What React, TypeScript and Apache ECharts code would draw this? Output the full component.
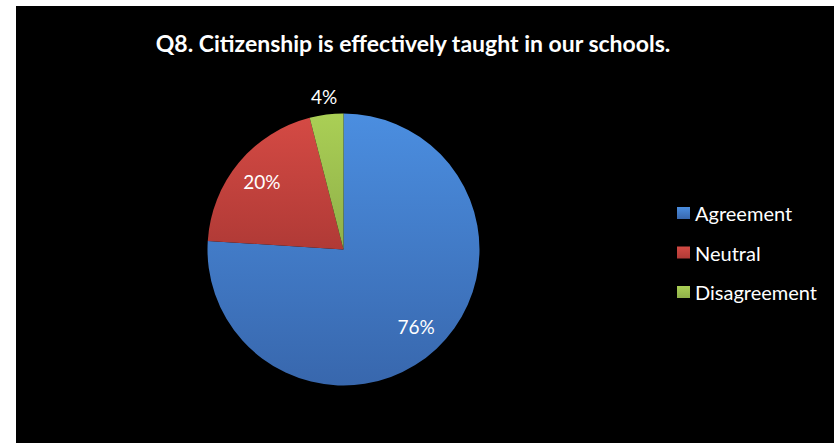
import React, { useEffect, useRef } from "react";
import * as echarts from "echarts";

const TITLE = "Q8. Citizenship is effectively taught in our schools.";
const categories = ["Agreement", "Neutral", "Disagreement"];
const values = [76, 20, 4];
const topColors = ["#4B8EE0", "#D44A44", "#AACF55"];
const bottomColors = ["#3867AD", "#B03A36", "#8FB049"];
const insideLabel = [true, true, false];
const outsideLabel = [false, false, true];

const FONT = "Lato, 'Open Sans', sans-serif";

export default function App() {
  const ref = useRef<HTMLDivElement>(null);
  useEffect(() => {
    if (!ref.current) return;
    const chart = echarts.init(ref.current, undefined, { renderer: "svg" });
    const grad = (i: number) =>
      new echarts.graphic.LinearGradient(0, 0, 0, 1, [
        { offset: 0, color: topColors[i] },
        { offset: 1, color: bottomColors[i] },
      ]);
    const center = [343.5, 249.5];
    chart.setOption({
      animation: false,
      backgroundColor: "#ffffff",
      graphic: [
        {
          type: "rect",
          left: 16,
          top: 6,
          shape: { width: 818, height: 437 },
          style: { fill: "#000000" },
          z: -10,
        },
      ],
      title: {
        text: TITLE,
        left: 413,
        textAlign: "center",
        top: 31,
        padding: 0,
        textStyle: {
          color: "#ffffff",
          fontFamily: FONT,
          fontWeight: "bold",
          fontSize: 23,
        },
      },
      legend: {
        orient: "vertical",
        left: 677,
        top: 203,
        padding: 0,
        itemWidth: 13,
        itemHeight: 12,
        itemGap: 19.5,
        icon: "rect",
        textStyle: {
          color: "#ffffff",
          fontFamily: FONT,
          fontSize: 20,
          lineHeight: 20,
        },
        data: categories.map((c, i) => ({
          name: c,
          itemStyle: { color: grad(i) },
        })),
      },
      series: [
        {
          type: "pie",
          center,
          radius: [0, 136],
          startAngle: 90,
          clockwise: true,
          label: { show: false },
          labelLine: { show: false },
          itemStyle: { borderWidth: 0 },
          data: categories.map((c, i) => ({
            name: c,
            value: values[i],
            itemStyle: { color: grad(i) },
          })),
        },
        {
          type: "pie",
          center,
          radius: [70, 136],
          startAngle: 90,
          clockwise: true,
          silent: true,
          legendHoverLink: false,
          labelLine: { show: false },
          itemStyle: { color: "rgba(0,0,0,0)" },
          label: {
            position: "inside",
            formatter: "{d}%",
            color: "#ffffff",
            fontFamily: FONT,
            fontSize: 19,
          },
          data: categories.map((c, i) => ({
            name: c,
            value: values[i],
            label: { show: insideLabel[i] },
          })),
        },
        {
          type: "pie",
          center,
          radius: [140, 162],
          startAngle: 90,
          clockwise: true,
          silent: true,
          legendHoverLink: false,
          labelLine: { show: false },
          itemStyle: { color: "rgba(0,0,0,0)" },
          label: {
            position: "inside",
            formatter: "{d}%",
            color: "#ffffff",
            fontFamily: FONT,
            fontSize: 19,
          },
          data: categories.map((c, i) => ({
            name: c,
            value: values[i],
            label: { show: outsideLabel[i] },
          })),
        },
      ],
    });
    return () => chart.dispose();
  }, []);
  return (
    <div
      ref={ref}
      style={{ position: "fixed", left: 0, top: 0, width: 834, height: 443 }}
    />
  );
}
